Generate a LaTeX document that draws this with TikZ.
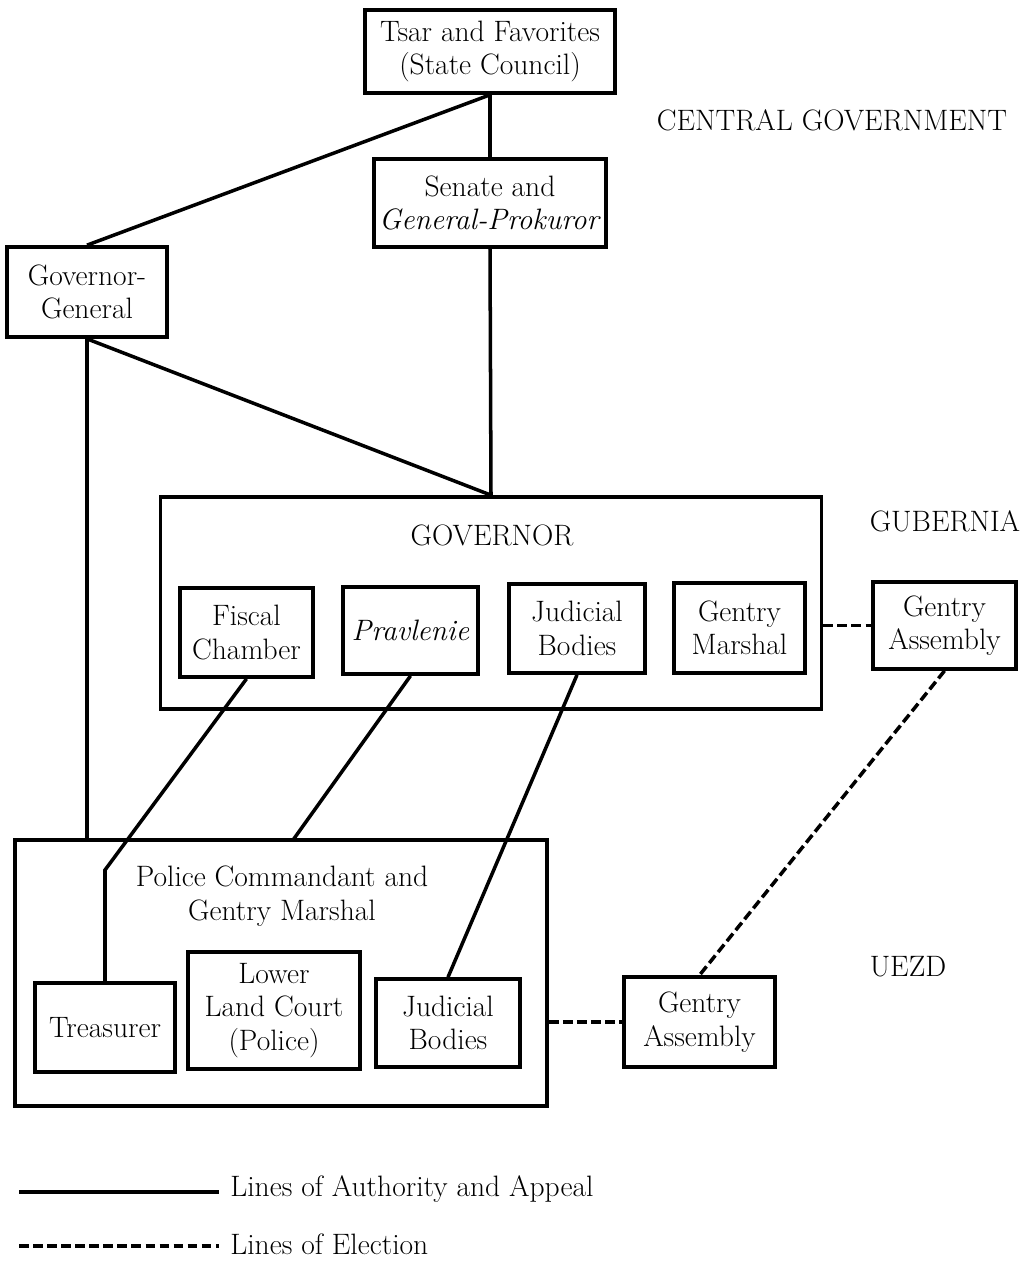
\documentclass[tikz,border=0pt]{standalone}
\usepackage{tikz}
\usetikzlibrary{calc}
\begin{document}
\begin{tikzpicture}[x=0.02cm, y=-0.02cm,
  font=\fontsize{16.8}{19}\selectfont,
  box/.style 2 args={draw, line width=2.1pt, align=center, inner sep=0pt,
    minimum width=#1*0.02cm, minimum height=#2*0.02cm},
  heading/.style={align=center, inner sep=0pt},
  auth/.style={line width=2pt},
  elect/.style={line width=2pt, dash pattern=on 5.5pt off 2.5pt}]
\useasboundingbox (0,0) rectangle (1019,1261);

% central government
\node [box={250}{83}] (tsar) at (490,51.5) {Tsar and Favorites\\(State Council)};
\node [box={232}{88}] (senate) at (490,203) {Senate and\\\textit{General-Prokuror}};
\node [box={160}{90}] (gg) at (87,292) {Governor-\\General};
\node [heading] (central) at (832,120) {CENTRAL GOVERNMENT};

% gubernia
\node [box={661}{212}] (gov) at (491,603) {};
\node [heading] (govtitle) at (492,535) {GOVERNOR};
\node [box={133}{89}] (fiscal) at (246.5,632.5) {Fiscal\\Chamber};
\node [box={135}{87}] (pravl) at (410.5,630.5) {\textit{Pravlenie}};
\node [box={136}{89}] (judg) at (577,628.5) {Judicial\\Bodies};
\node [box={131}{90}] (gmarsh) at (739.5,628) {Gentry\\Marshal};
\node [box={143}{87}] (gasg) at (944.5,625.5) {Gentry\\Assembly};
\node [heading] (gubernia) at (945,521) {GUBERNIA};

% uezd
\node [box={532}{266}] (police) at (281,973) {};
\node [heading] (policetitle) at (282,896) {Police Commandant and\\Gentry Marshal};
\node [box={140}{89}] (treas) at (105,1027.5) {Treasurer};
\node [box={172}{117}] (lower) at (274,1010.5) {Lower\\Land Court\\(Police)};
\node [box={144}{88}] (judu) at (448,1023) {Judicial\\Bodies};
\node [box={151}{90}] (gasu) at (699.5,1022) {Gentry\\Assembly};
\node [heading] (uezd) at (908,967) {UEZD};

\coordinate (tbend) at (105,870);
\coordinate (pjoin) at (293,840);

\draw [auth] (tsar.south) -- (senate.north);
\draw [auth] (tsar.south) -- (gg.north);
\draw [auth] (senate.south) -- (gov.north);
\draw [auth] (gg.south) -- (gov.north);
\draw [auth] (gg.south) -- (gg.south |- police.north);
\draw [auth] (fiscal.south) -- (tbend) -- (treas.north);
\draw [auth] (pravl.south) -- (pjoin);
\draw [auth] (judg.south) -- (judu.north);
\draw [elect] (gasg.south) -- (gasu.north);
\draw [elect] (gov.east |- gasg.west) -- (gasg.west);
\draw [elect] (police.east |- gasu.west) -- (gasu.west);

% legend
\coordinate (solA) at (19,1192);
\coordinate (solB) at (219,1192);
\coordinate (dashA) at (19,1246);
\coordinate (dashB) at (219,1246);
\draw [auth] (solA) -- (solB);
\draw [elect] (dashA) -- (dashB);
\node [heading, anchor=west] (soltext) at (230,1189) {Lines of Authority and Appeal};
\node [heading, anchor=west] (dashtext) at (230,1244) {Lines of Election};
\end{tikzpicture}
\end{document}
